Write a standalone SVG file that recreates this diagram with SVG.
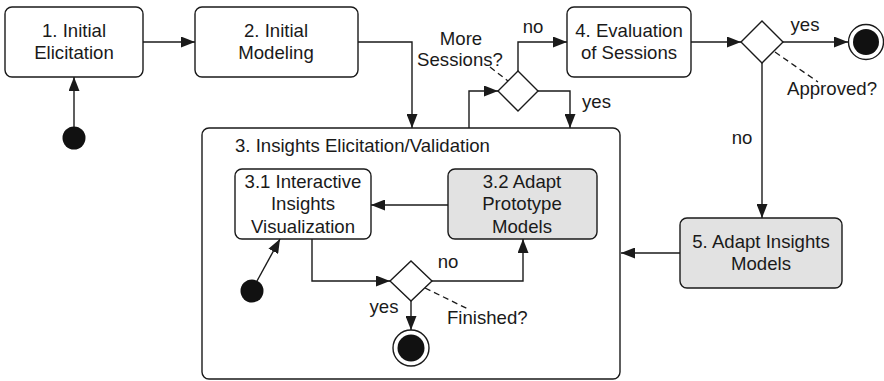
<svg xmlns="http://www.w3.org/2000/svg" width="884" height="381" viewBox="0 0 884 381">
<defs>
<marker id="arr" viewBox="0 0 14 11" refX="14" refY="5.5" markerWidth="14" markerHeight="11" markerUnits="userSpaceOnUse" orient="auto">
<path d="M0,0 L14,5.5 L0,11 z" fill="#1a1a1a"/>
</marker>
<style>
.box{fill:#fff;stroke:#1a1a1a;stroke-width:1.4}
.gray{fill:#e2e2e2;stroke:#1a1a1a;stroke-width:1.4}
.dia{fill:#fff;stroke:#1a1a1a;stroke-width:1.4}
.edge{fill:none;stroke:#1a1a1a;stroke-width:1.4}
.arrow{fill:none;stroke:#1a1a1a;stroke-width:1.4;marker-end:url(#arr)}
.dash{fill:none;stroke:#1a1a1a;stroke-width:1.3;stroke-dasharray:6,4}
.dot{fill:#111}
.ring{fill:#fff;stroke:#1a1a1a;stroke-width:1.4}
text{font-family:"Liberation Sans",Arial,sans-serif;font-size:18.6px;fill:#1a1a1a}
.c{text-anchor:middle}
</style>
</defs>
<g id="container3">
<rect class="box" x="202" y="128" width="418" height="251" rx="7"/>
<text x="235" y="152">3. Insights Elicitation/Validation</text>
</g>
<g id="start1"><circle class="dot" cx="74" cy="138" r="11.5"/></g>
<g id="node1">
<rect class="box" x="5" y="7" width="138" height="70" rx="7"/>
<text class="c" x="74" y="37">1. Initial</text>
<text class="c" x="74" y="59">Elicitation</text>
</g>
<g id="node2">
<rect class="box" x="195" y="7" width="163" height="70" rx="7"/>
<text class="c" x="276" y="37">2. Initial</text>
<text class="c" x="276" y="59">Modeling</text>
</g>
<g id="decision1">
<path class="dia" d="M498,91 L518,71 L538,91 L518,111 z"/>
<text class="c" x="461" y="45">More</text>
<text class="c" x="460" y="66">Sessions?</text>
</g>
<g id="node4">
<rect class="box" x="567" y="7" width="124" height="70" rx="7"/>
<text class="c" x="629" y="37">4. Evaluation</text>
<text class="c" x="629" y="59">of Sessions</text>
</g>
<g id="decision2">
<path class="dia" d="M741,42 L762,21 L783,42 L762,63 z"/>
<text class="c" x="832" y="95">Approved?</text>
</g>
<g id="end1">
<circle class="ring" cx="866" cy="42" r="17.5"/>
<circle class="dot" cx="866" cy="42" r="13"/>
</g>
<g id="node5">
<rect class="gray" x="680" y="218" width="162" height="70" rx="7"/>
<text class="c" x="761" y="248">5. Adapt Insights</text>
<text class="c" x="761" y="270">Models</text>
</g>
<g id="node31">
<rect class="box" x="235" y="169" width="136" height="70" rx="7"/>
<text class="c" x="303" y="188">3.1 Interactive</text>
<text class="c" x="303" y="210">Insights</text>
<text class="c" x="303" y="233">Visualization</text>
</g>
<g id="node32">
<rect class="gray" x="448" y="169" width="149" height="70" rx="7"/>
<text class="c" x="522" y="188">3.2 Adapt</text>
<text class="c" x="522" y="210">Prototype</text>
<text class="c" x="522" y="233">Models</text>
</g>
<g id="start2"><circle class="dot" cx="252" cy="291" r="11.5"/></g>
<g id="decision3">
<path class="dia" d="M390,281 L411,261 L432,281 L411,301 z"/>
<text x="447" y="324">Finished?</text>
</g>
<g id="end2">
<circle class="ring" cx="411" cy="348" r="18"/>
<circle class="dot" cx="411" cy="348" r="13.5"/>
</g>
<g id="connectors">
<path class="arrow" d="M74,127 V77"/>
<path class="arrow" d="M143,42 H195"/>
<path class="arrow" d="M358,42 H412 V128"/>
<path class="arrow" d="M469,128 V91 H498"/>
<path class="arrow" d="M518,71 V42 H567"/>
<path class="arrow" d="M538,91 H570 V128"/>
<path class="arrow" d="M691,42 H741"/>
<path class="arrow" d="M783,42 H848"/>
<path class="arrow" d="M762,63 V218"/>
<path class="arrow" d="M680,253 H621"/>
<path class="arrow" d="M448,205 H371"/>
<path class="arrow" d="M257,281 L280,239"/>
<path class="arrow" d="M312,239 V281 H390"/>
<path class="arrow" d="M432,281 H523 V239"/>
<path class="arrow" d="M411,301 V330"/>
<path class="dash" d="M490,67 L508,81"/>
<path class="dash" d="M775,52 L818,82"/>
<path class="dash" d="M425,288 L468,309"/>
<text class="c" x="533" y="33">no</text>
<text x="582" y="108">yes</text>
<text class="c" x="805" y="31">yes</text>
<text class="c" x="742" y="144">no</text>
<text class="c" x="448" y="268">no</text>
<text class="c" x="384" y="313">yes</text>
</g>
</svg>
